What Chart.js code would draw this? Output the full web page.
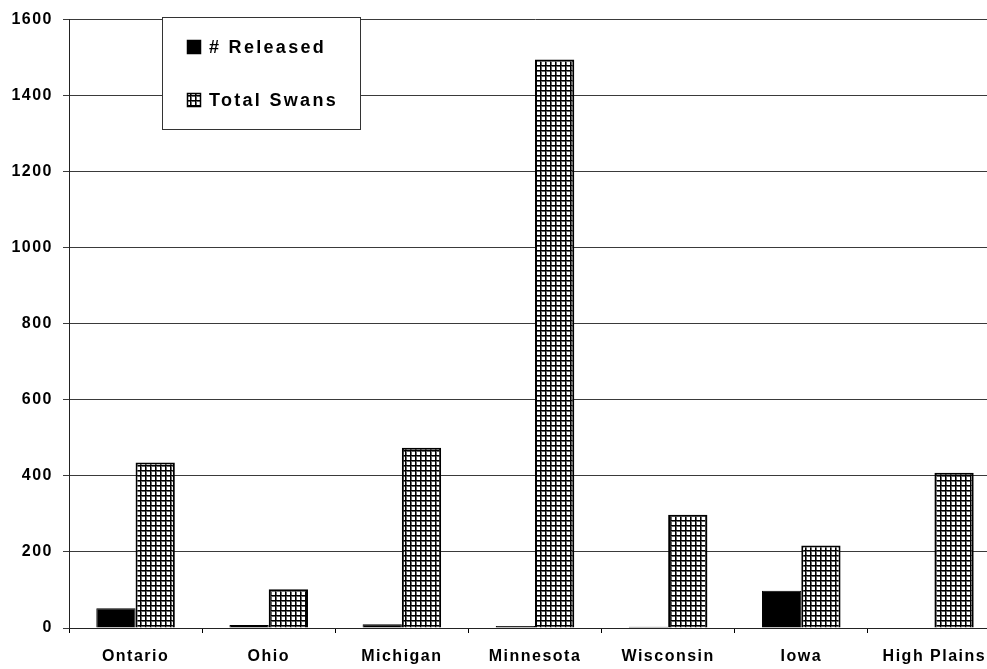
<!DOCTYPE html>
<html>
<head>
<meta charset="utf-8">
<script src="https://cdn.jsdelivr.net/npm/chart.js@4/dist/chart.umd.min.js"></script>
<style>
  html, body { margin: 0; padding: 0; background: #fff; overflow: hidden; }
  #wrap { width: 1001px; height: 669px; }
</style>
</head>
<body>
<div id="wrap"><canvas id="c" width="1001" height="669"></canvas></div>
<script>
// Swan counts by region
const categories = ['Ontario', 'Ohio', 'Michigan', 'Minnesota', 'Wisconsin', 'Iowa', 'High Plains'];
const released = [52, 8, 10, 5, 3, 98, 0];
const totalSwans = [435, 102, 474, 1495, 298, 217, 408];
const yTicks = [0, 200, 400, 600, 800, 1000, 1200, 1400, 1600];
const seriesNames = ['# Released', 'Total Swans'];

const FONT = "'Liberation Sans', Arial, sans-serif";

// Cross-hatched fill used for the "Total Swans" bars
function gridPattern() {
  const p = document.createElement('canvas');
  p.width = 5; p.height = 5;
  const g = p.getContext('2d');
  g.fillStyle = '#fff';
  g.fillRect(0, 0, 5, 5);
  g.fillStyle = '#666';
  g.fillRect(0, 1, 5, 1);
  g.fillRect(1, 0, 1, 5);
  g.fillStyle = '#000';
  g.fillRect(0, 0, 5, 1);
  g.fillRect(0, 0, 1, 5);
  return document.getElementById('c').getContext('2d').createPattern(p, 'repeat');
}
const hatch = gridPattern();

// Spaced-out lettering for axis text
const spacingPlugin = {
  id: 'spacing',
  beforeDraw(chart) { chart.ctx.letterSpacing = '1.5px'; }
};

// Boxed legend placed inside the plot area
const boxLegend = {
  id: 'boxLegend',
  afterDraw(chart) {
    const ctx = chart.ctx;
    ctx.save();
    ctx.letterSpacing = '2.3px';
    ctx.fillStyle = '#fff';
    ctx.fillRect(162, 17, 198, 112);
    ctx.strokeStyle = '#333';
    ctx.lineWidth = 1;
    ctx.strokeRect(162.5, 17.5, 198, 112);
    const rows = [47, 100];
    chart.data.datasets.forEach((ds, i) => {
      const y = rows[i];
      ctx.fillStyle = ds.backgroundColor;
      ctx.fillRect(187, y - 7, 14, 14);
      ctx.strokeStyle = '#000';
      ctx.lineWidth = 1.5;
      ctx.strokeRect(187.5, y - 6.5, 13, 13);
      ctx.fillStyle = '#000';
      ctx.font = 'bold 18px ' + FONT;
      ctx.textBaseline = 'middle';
      ctx.textAlign = 'left';
      ctx.fillText(ds.label, 209, y + 1);
    });
    ctx.restore();
  }
};

new Chart(document.getElementById('c'), {
  type: 'bar',
  data: {
    labels: categories,
    datasets: [
      {
        label: seriesNames[0],
        data: released,
        backgroundColor: '#000',
        borderColor: '#000',
        borderWidth: 1
      },
      {
        label: seriesNames[1],
        data: totalSwans,
        backgroundColor: hatch,
        borderColor: '#000',
        borderWidth: 2
      }
    ]
  },
  options: {
    responsive: false,
    animation: false,
    devicePixelRatio: 1,
    layout: { padding: { top: 19, left: 0, right: 0, bottom: 0 } },
    datasets: { bar: { categoryPercentage: 0.59, barPercentage: 1.0 } },
    plugins: {
      legend: { display: false },
      tooltip: { enabled: false }
    },
    scales: {
      x: {
        grid: {
          offset: true,
          drawOnChartArea: false,
          drawTicks: true,
          tickLength: 5,
          color: '#000'
        },
        border: { display: true, color: '#222', width: 1 },
        ticks: {
          color: '#000',
          padding: 14,
          maxRotation: 0,
          font: { family: FONT, size: 16, weight: 'bold' }
        },
        afterFit(scale) { scale.height = 41; }
      },
      y: {
        min: 0,
        max: 1600,
        afterBuildTicks(scale) { scale.ticks = yTicks.map(v => ({ value: v })); },
        grid: {
          color: '#3a3a3a',
          lineWidth: 1,
          drawTicks: true,
          tickLength: 6
        },
        border: { display: true, color: '#222', width: 1 },
        ticks: {
          color: '#000',
          padding: 10,
          callback: v => String(v),
          font: { family: FONT, size: 16, weight: 'bold' }
        },
        afterFit(scale) { scale.width = 69; }
      }
    }
  },
  plugins: [spacingPlugin, boxLegend]
});
</script>
</body>
</html>
